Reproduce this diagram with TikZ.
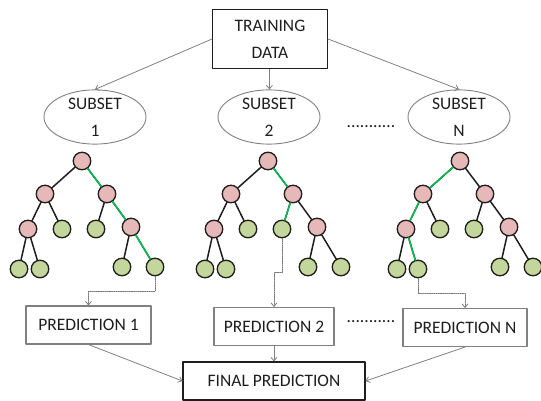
\documentclass[tikz,border=0pt]{standalone}
\usepackage{fontspec}
\setmainfont{Carlito}
\usetikzlibrary{arrows.meta,shapes.geometric}
\definecolor{inkgray}{RGB}{30,30,30}
\definecolor{edgegray}{RGB}{128,128,128}
\definecolor{dotgray}{RGB}{120,120,120}
\definecolor{nodepink}{RGB}{230,184,183}
\definecolor{leafgreen}{RGB}{195,214,155}
\definecolor{pathgreen}{RGB}{0,190,80}
\begin{document}
\begin{tikzpicture}[x=1pt, y=-1pt, font=\fontsize{17.5}{27}\selectfont, text=inkgray,
	>={Straight Barb[length=3.5pt,width=6pt]}, line join=round, line cap=round,
	databox/.style={draw=#1, line width=1.1pt, minimum height=38pt, inner sep=0pt, align=center},
	subset/.style={draw=edgegray, ellipse, line width=0.9pt, minimum width=102pt, minimum height=52pt, inner sep=0pt, align=center},
	split/.style={circle, draw=inkgray, line width=1.3pt, fill=nodepink, minimum size=17.5pt, inner sep=0pt},
	leaf/.style={split, fill=leafgreen},
	branch/.style={draw=inkgray, line width=1.5pt},
	vote/.style={branch, draw=pathgreen},
	feed/.style={->, draw=edgegray, line width=0.8pt},
	pick/.style={->, draw=dotgray, line width=0.8pt, dash pattern=on 1.2pt off 1pt}]
	\useasboundingbox (0,0) rectangle (541,401);
	% data and bootstrap subsets
	\node[databox=inkgray, minimum width=115pt, minimum height=59pt] (train) at (270,39) {TRAINING\\DATA};
	\node[subset] (s1) at (95,117) {SUBSET\\1};
	\node[subset] (s2) at (269,117) {SUBSET\\2};
	\node[subset] (sN) at (459,117) {SUBSET\\N};
	\node (dotsA) at (371,127) {...........};
	\draw[feed] (train.west) -- (s1.north);
	\draw[feed] (train) -- (s2);
	\draw[feed] (train.east) -- (sN.north);
	% one tree per subset
	\foreach \t/\rx in {1/82, 2/268, 3/460}{
		\begin{scope}[shift={(\rx,0)}]
			\node[split] (t\t-r) at (0,161) {};
			\node[split] (t\t-a) at (-37,194) {};
			\node[split] (t\t-b) at (25,194) {};
			\node[split] (t\t-aa) at (-54,229) {};
			\node[leaf] (t\t-ab) at (-20,229) {};
			\node[leaf] (t\t-ba) at (14,229) {};
			\node[split] (t\t-bb) at (49,227) {};
			\node[leaf] (t\t-aaa) at (-63,269) {};
			\node[leaf] (t\t-aab) at (-42,269) {};
			\node[leaf] (t\t-bba) at (40,267) {};
			\node[leaf] (t\t-bbb) at (73,267) {};
		\end{scope}
		\foreach \u/\v in {r/a, r/b, a/aa, a/ab, aa/aaa, aa/aab, b/ba, b/bb, bb/bba, bb/bbb}
			\draw[branch] (t\t-\u) -- (t\t-\v);
	}
	\draw[vote] (t1-r) -- (t1-b) -- (t1-bb) -- (t1-bbb);
	\draw[vote] (t2-r) -- (t2-b) -- (t2-ba);
	\draw[vote] (t3-r) -- (t3-a) -- (t3-aa) -- (t3-aab);
	% predictions
	\node[databox=edgegray, minimum width=125pt] (p1) at (88.5,325) {PREDICTION 1};
	\node[databox=edgegray, minimum width=120pt] (p2) at (274,326.5) {PREDICTION 2};
	\node[databox=edgegray, minimum width=124pt] (pN) at (465,327.5) {PREDICTION N};
	\node (dotsB) at (371,322) {...........};
	\node[databox=inkgray, minimum width=182pt] (final) at (274,381) {FINAL PREDICTION};
	\draw[pick] (t1-bbb.south) -- ++(0,15) -| (p1.north);
	\draw[pick] (t2-ba.south) -- ++(0,34) -| (p2.north);
	\draw[pick] (t3-aab.south) -- ++(0,15) -| (pN.north);
	\draw[feed] (p1.south) -- (final.west);
	\draw[feed] (p2) -- (final);
	\draw[feed] (pN.south) -- (final.east);
\end{tikzpicture}
\end{document}
